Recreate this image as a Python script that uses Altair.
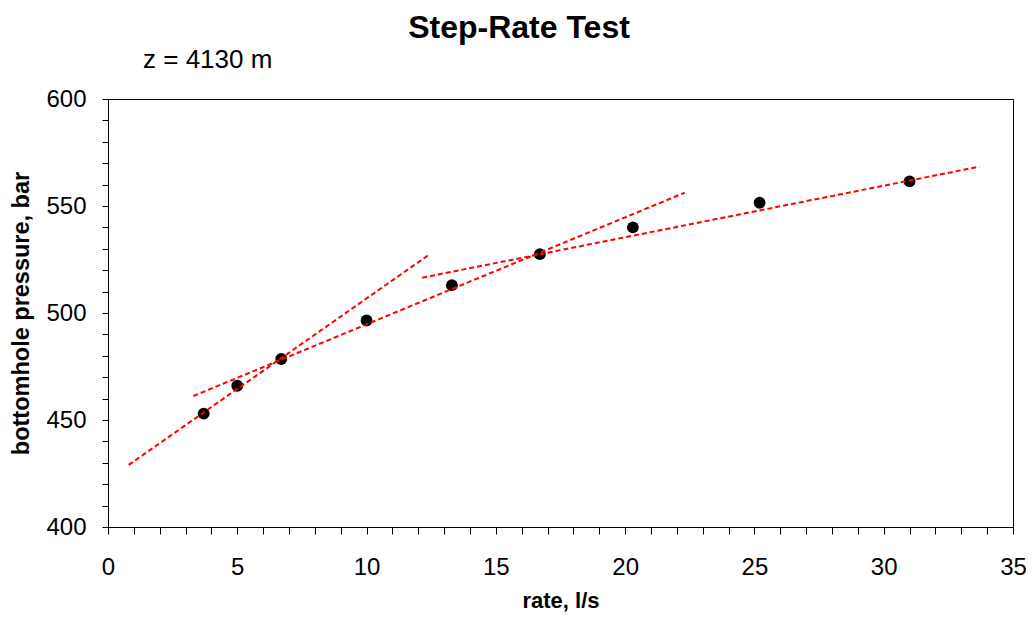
import altair as alt
import pandas as pd

# ---- data ----
rate = [3.7, 5.0, 6.7, 10.0, 13.3, 16.7, 20.3, 25.2, 31.0]
pressure = [453.0, 466.0, 478.5, 496.5, 513.0, 527.5, 540.0, 551.5, 561.5]

fit_names = ["A", "B", "C"]
fit_rate_start = [0.8, 3.3, 12.15]
fit_rate_end = [12.4, 22.3, 33.7]
fit_p_start = [429.0, 461.2, 516.5]
fit_p_end = [527.1, 556.2, 568.4]

x_ticks = list(range(0, 36))
y_ticks = list(range(400, 601, 10))

title_text = ["Step-Rate Test"]
note_text = ["z = 4130 m"]
x_title = "rate, l/s"
y_title = "bottomhole pressure, bar"

# ---- tables ----
pts = pd.DataFrame({"rate": rate, "p": pressure})
rows = []
for n, x0, x1, y0, y1 in zip(fit_names, fit_rate_start, fit_rate_end, fit_p_start, fit_p_end):
    rows.append({"seg": n, "rate": x0, "p": y0, "o": 0})
    rows.append({"seg": n, "rate": x1, "p": y1, "o": 1})
lines = pd.DataFrame(rows)

FONT = "Liberation Sans"
W, H = 905, 428

x_scale = alt.Scale(domain=[0, 35], nice=False, zero=False)
y_scale = alt.Scale(domain=[400, 600], nice=False, zero=False)

x_axis = alt.Axis(
    values=x_ticks,
    labelExpr="datum.value % 5 == 0 ? datum.label : ''",
    labelOverlap=False, labelFlush=False, labelBound=False,
    grid=False, tickSize=7, labelPadding=21, labelFontSize=24,
    title=x_title, titleFontSize=22, titleFontWeight="bold",
    titleX=W / 2, titleY=80, titleBaseline="alphabetic", titleAlign="center",
)
y_axis = alt.Axis(
    values=y_ticks,
    labelExpr="datum.value % 50 == 0 ? datum.label : ''",
    labelOverlap=False, labelFlush=False, labelBound=False,
    grid=False, tickSize=6, labelPadding=16, labelFontSize=24,
    title=y_title, titleFontSize=23.5, titleFontWeight="bold",
    titleX=-80, titleY=H / 2, titleBaseline="alphabetic", titleAlign="center",
    titleAngle=270,
)

points = alt.Chart(pts).mark_point(
    filled=True, color="black", size=140, opacity=1
).encode(
    x=alt.X("rate:Q", scale=x_scale, axis=x_axis),
    y=alt.Y("p:Q", scale=y_scale, axis=y_axis),
)

fits = alt.Chart(lines).mark_line(
    color="#ff0000", strokeDash=[5, 3], strokeWidth=2
).encode(
    x=alt.X("rate:Q", scale=x_scale, axis=x_axis),
    y=alt.Y("p:Q", scale=y_scale, axis=y_axis),
    detail="seg:N",
    order="o:Q",
)

title = alt.Chart(pd.DataFrame({"t": title_text})).mark_text(
    font=FONT, fontSize=32, fontWeight="bold", align="center",
    baseline="alphabetic", color="black"
).encode(x=alt.value(411), y=alt.value(-61.5), text="t:N")

note = alt.Chart(pd.DataFrame({"t": note_text})).mark_text(
    font=FONT, fontSize=26, align="left", baseline="alphabetic", color="black"
).encode(x=alt.value(35), y=alt.value(-31), text="t:N")

chart = alt.layer(points, fits, title, note).properties(
    width=W, height=H,
    autosize=alt.AutoSizeParams(type="none"),
    padding={"left": 100, "top": 91, "right": 13, "bottom": 85},
).configure_view(
    stroke="black", strokeWidth=1
).configure_axis(
    domainColor="black", tickColor="black", labelColor="black",
    titleColor="black", labelFont=FONT, titleFont=FONT,
    domainWidth=1, tickWidth=1,
)

chart.save("out.html", embed_options={"renderer": "svg", "actions": False})
